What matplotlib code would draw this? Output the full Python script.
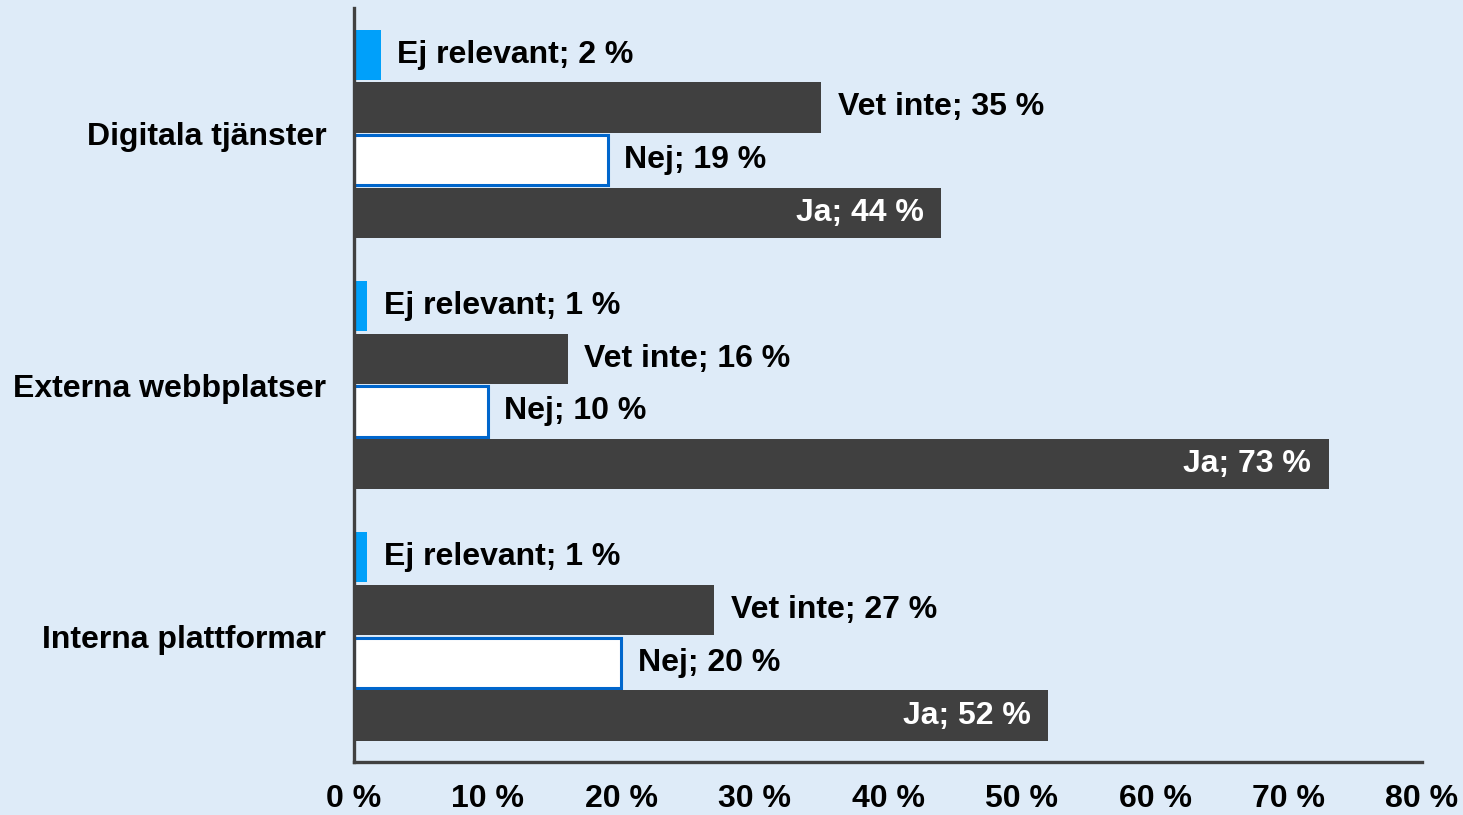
import numpy as np
import matplotlib
matplotlib.use("Agg")
import matplotlib.pyplot as plt

plt.rcParams['font.family'] = ['Liberation Sans', 'DejaVu Sans']

# data (percent)
categories = ["Interna plattformar", "Externa webbplatser", "Digitala tjänster"]
series_names = ["Ej relevant", "Vet inte", "Nej", "Ja"]
ej_relevant = [1, 1, 2]
vet_inte = [27, 16, 35]
nej = [20, 10, 19]
ja = [52, 73, 44]
xticks = [0, 10, 20, 30, 40, 50, 60, 70, 80]

bg = "#DEEBF8"
dark = "#404040"
fs = 23

fig = plt.figure(figsize=(14.63, 8.15), dpi=100, facecolor=bg)
ax = fig.add_axes([0.242, 0.065, 0.730, 0.925])
ax.set_facecolor(bg)

y = np.arange(len(categories))
h = 0.2
offsets = [0.315, 0.105, -0.105, -0.315]
values = [ej_relevant, vet_inte, nej, ja]
faces = ["#00A0FA", dark, "white", dark]
edges = ["none", "none", "#0066CC", "none"]
lws = [0, 0, 2.2, 0]

for name, vals, off, fc, ec, lw in zip(series_names, values, offsets, faces, edges, lws):
    bars = ax.barh(y + off, vals, height=h, color=fc, edgecolor=ec, linewidth=lw)
    for b, v in zip(bars, vals):
        cy = b.get_y() + b.get_height() / 2
        lab = f"{name}; {v} %"
        if name == "Ja":
            ax.text(v - 1.3, cy, lab, ha="right", va="center", color="white",
                    fontsize=fs, fontweight="bold")
        else:
            ax.text(v + 1.25, cy, lab, ha="left", va="center", color="black",
                    fontsize=fs, fontweight="bold")

ax.set_xlim(0, 80)
ax.set_ylim(-0.5, 2.5)
ax.set_xticks(xticks)
ax.set_xticklabels([f"{t} %" for t in xticks], fontsize=fs, fontweight="bold")
ax.set_yticks(y)
ax.set_yticklabels(categories, fontsize=fs, fontweight="bold")
ax.tick_params(axis="x", length=0, pad=16)
ax.tick_params(axis="y", length=0, pad=20)

for s in ["top", "right"]:
    ax.spines[s].set_visible(False)
for s in ["left", "bottom"]:
    ax.spines[s].set_color(dark)
    ax.spines[s].set_linewidth(2.4)

fig.savefig("out.png", dpi=100, facecolor=bg)
